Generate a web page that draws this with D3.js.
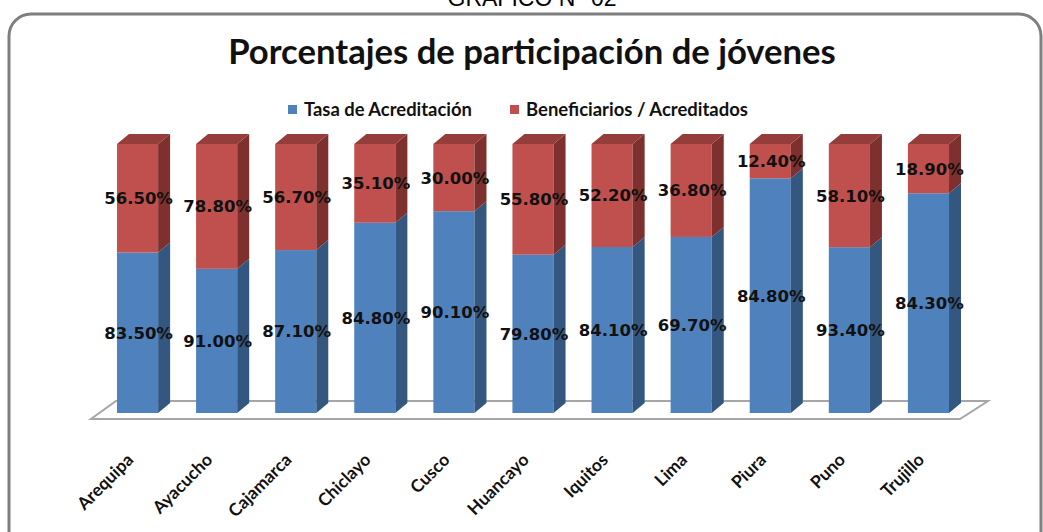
<!DOCTYPE html>
<html>
<head>
<meta charset="utf-8">
<script src="https://cdn.jsdelivr.net/npm/d3@7"></script>
<style>
  body { margin: 0; background: #fff; }
  svg { display: block; }
</style>
</head>
<body>
<div id="chart"></div>
<script>
// data
const cities = ["Arequipa", "Ayacucho", "Cajamarca", "Chiclayo", "Cusco", "Huancayo",
                "Iquitos", "Lima", "Piura", "Puno", "Trujillo"]
const tasaAcreditacion = [83.5, 91.0, 87.1, 84.8, 90.1, 79.8, 84.1, 69.7, 84.8, 93.4, 84.3]
const beneficiarios = [56.5, 78.8, 56.7, 35.1, 30.0, 55.8, 52.2, 36.8, 12.4, 58.1, 18.9]
const seriesNames = ["Tasa de Acreditación", "Beneficiarios / Acreditados"]

const width = 1043, height = 532
const depthX = 12, depthY = 10   // 3d offset of the columns

const colors = {
    blue: { front: "#4f81bd", side: "#34577f", top: "#3f6797" },
    red:  { front: "#c0504d", side: "#7d302e", top: "#953d3a" }
}

const svg = d3.select("#chart").append("svg")
    .attr("viewBox", [0, 0, width, height])
    .attr("width", width)
    .attr("height", height)

// shrink/grow font size so text spans a given width
function fitText(sel, target) {
    const len = sel.node().getComputedTextLength()
    const fs = parseFloat(sel.attr("font-size"))
    sel.attr("font-size", fs * target / len)
}

// header above the frame (cut off at the top, like the scan)
svg.append("text")
    .attr("x", 532).attr("y", 6)
    .attr("text-anchor", "middle")
    .attr("font-family", "Liberation Sans, Arial, sans-serif")
    .attr("font-size", 23)
    .text("GRAFICO N° 02")

// rounded frame
svg.append("rect")
    .attr("x", 9).attr("y", 14)
    .attr("width", 1032).attr("height", 560)
    .attr("rx", 22)
    .attr("fill", "none")
    .attr("stroke", "#7f7f7f")
    .attr("stroke-width", 3)

// title
const title = svg.append("text")
    .attr("x", 532).attr("y", 64)
    .attr("text-anchor", "middle")
    .attr("font-family", "Lato, sans-serif")
    .attr("font-weight", "bold")
    .attr("font-size", 30)
    .attr("fill", "#111")
    .text("Porcentajes de participación de jóvenes")
fitText(title, 608)

// legend
const legendItems = [
    { name: seriesNames[0], color: colors.blue.front, x: 288, w: 168 },
    { name: seriesNames[1], color: colors.red.front, x: 510, w: 222 }
]
legendItems.forEach(d => {
    svg.append("rect")
        .attr("x", d.x).attr("y", 105)
        .attr("width", 9).attr("height", 9)
        .attr("fill", d.color)
    const t = svg.append("text")
        .attr("x", d.x + 16).attr("y", 115.5)
        .attr("font-family", "Lato, sans-serif")
        .attr("font-weight", "bold")
        .attr("font-size", 15)
        .attr("fill", "#111")
        .text(d.name)
    fitText(t, d.w)
})

// scales
const xScale = d3.scaleBand()
    .domain(cities)
    .range([98, 968])
    .paddingInner(0.48)
    .paddingOuter(0.24)

const yScale = d3.scaleLinear()
    .domain([0, 1])
    .range([413, 144])

// floor
const [r0, r1] = xScale.range()
const floorPts = [
    [r0 - 7, 419], [r1 - 8, 419], [r1 + 20, 401], [r0 + 18, 401]
]
svg.append("polygon")
    .attr("points", floorPts.map(p => p.join(",")).join(" "))
    .attr("fill", "#fff")
    .attr("stroke", "#a6a6a6")
    .attr("stroke-width", 2)

// 100% stacked data
const stacked = cities.map((c, i) => {
    const total = tasaAcreditacion[i] + beneficiarios[i]
    const b = tasaAcreditacion[i] / total
    return {
        city: c,
        segs: [
            { val: tasaAcreditacion[i], y0: 0, y1: b, col: colors.blue },
            { val: beneficiarios[i], y0: b, y1: 1, col: colors.red }
        ]
    }
})

const pts = arr => arr.map(p => p.join(",")).join(" ")
const fmt = d3.format(".2f")

stacked.forEach(d => {
    const x0 = xScale(d.city)
    const x1 = x0 + xScale.bandwidth()
    const g = svg.append("g")

    d.segs.forEach((s, k) => {
        const yb = yScale(s.y0), yt = yScale(s.y1)
        // front face
        g.append("rect")
            .attr("x", x0).attr("y", yt)
            .attr("width", x1 - x0).attr("height", yb - yt)
            .attr("fill", s.col.front)
        // side face
        g.append("polygon")
            .attr("points", pts([[x1, yb], [x1 + depthX, yb - depthY], [x1 + depthX, yt - depthY], [x1, yt]]))
            .attr("fill", s.col.side)
        // top face only on last segment
        if (k === d.segs.length - 1) {
            g.append("polygon")
                .attr("points", pts([[x0, yt], [x0 + depthX, yt - depthY], [x1 + depthX, yt - depthY], [x1, yt]]))
                .attr("fill", s.col.top)
        }
    })

    // value labels
    d.segs.forEach(s => {
        g.append("text")
            .attr("x", (x0 + x1) / 2 + 1)
            .attr("y", (yScale(s.y0) + yScale(s.y1)) / 2)
            .attr("dy", "0.36em")
            .attr("text-anchor", "middle")
            .attr("font-family", "DejaVu Sans, Verdana, sans-serif")
            .attr("font-weight", "bold")
            .attr("font-size", 16.5)
            .attr("fill", "#111")
            .text(fmt(s.val) + "%")
    })
})

// category labels, rotated
svg.append("g").selectAll("text")
    .data(cities)
    .join("text")
    .attr("transform", d => `translate(${xScale(d) + xScale.bandwidth() / 2 - 3},461) rotate(-45)`)
    .attr("text-anchor", "end")
    .attr("font-family", "Lato, sans-serif")
    .attr("font-weight", "bold")
    .attr("font-size", 17.5)
    .attr("fill", "#111")
    .text(d => d)
</script>
</body>
</html>
